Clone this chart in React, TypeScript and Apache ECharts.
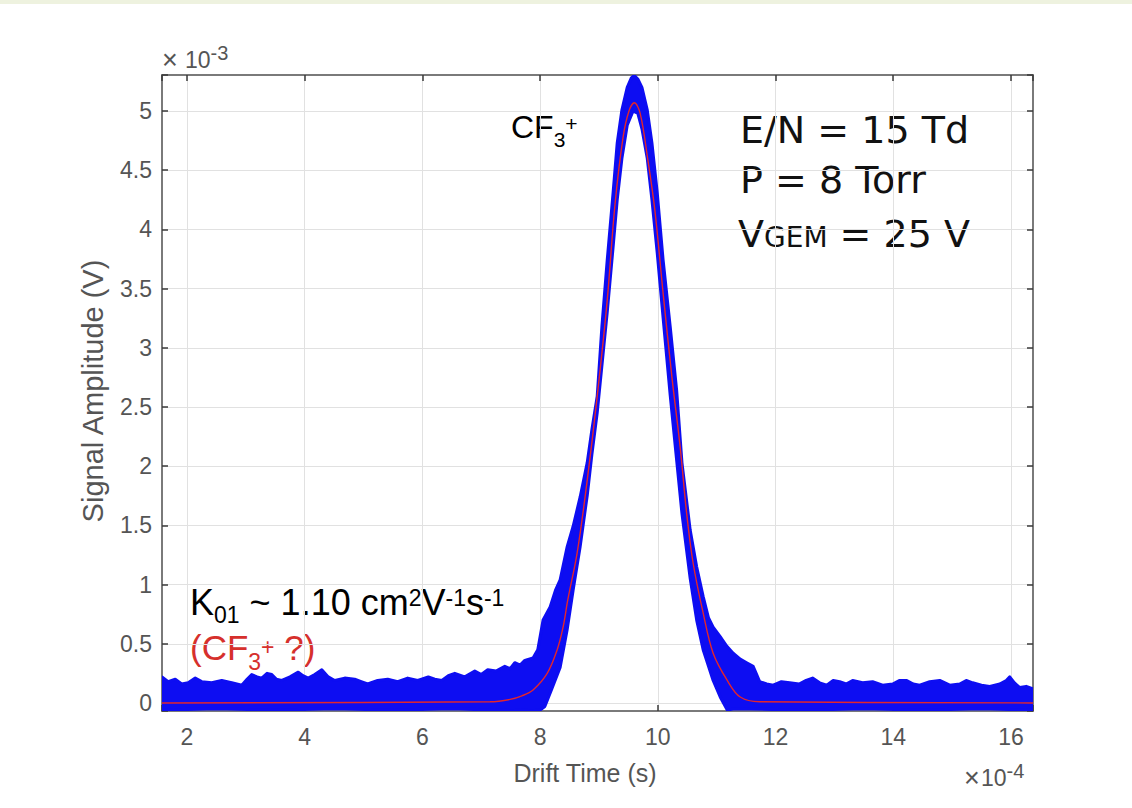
import React, { useEffect, useRef } from 'react';
import * as echarts from 'echarts';

// Axis ranges (x in units of 1e-4 s, y in units of 1e-3 V)
const X_MIN = 1.575;
const X_MAX = 16.375;
const Y_MIN = -0.068;
const Y_MAX = 5.304;

// Upper envelope of the measured (blue) signal cloud
const signalUpper: [number, number][] = [
  [1.575, 0.22], [1.68, 0.18], [1.80, 0.20], [1.91, 0.16], [2.02, 0.17], [2.14, 0.21], [2.25, 0.18],
  [2.42, 0.17], [2.59, 0.19], [2.76, 0.17], [2.93, 0.15], [3.02, 0.20], [3.10, 0.24], [3.19, 0.22],
  [3.27, 0.21], [3.36, 0.25], [3.44, 0.24], [3.52, 0.20], [3.61, 0.19], [3.75, 0.22], [3.89, 0.26],
  [3.97, 0.23], [4.06, 0.21], [4.17, 0.24], [4.29, 0.28], [4.40, 0.22], [4.51, 0.19], [4.68, 0.21],
  [4.85, 0.20], [4.96, 0.18], [5.07, 0.16], [5.24, 0.19], [5.41, 0.20], [5.58, 0.18], [5.75, 0.21],
  [5.92, 0.19], [6.10, 0.22], [6.21, 0.20], [6.33, 0.19], [6.44, 0.23], [6.55, 0.25], [6.72, 0.22],
  [6.89, 0.27], [7.00, 0.24], [7.11, 0.28], [7.25, 0.27], [7.40, 0.31], [7.49, 0.29], [7.57, 0.34],
  [7.66, 0.32], [7.74, 0.36], [7.88, 0.38], [7.96, 0.45], [8.05, 0.70], [8.17, 0.81], [8.26, 0.95],
  [8.34, 1.04], [8.46, 1.32], [8.56, 1.49], [8.68, 1.74], [8.80, 2.03], [8.88, 2.31], [8.97, 2.59],
  [9.05, 3.18], [9.14, 3.74], [9.24, 4.31], [9.31, 4.73], [9.39, 5.01], [9.48, 5.20], [9.55, 5.28],
  [9.60, 5.30], [9.66, 5.27], [9.73, 5.20], [9.82, 5.01], [9.90, 4.73], [9.99, 4.31], [10.09, 3.74],
  [10.21, 3.18], [10.32, 2.64], [10.41, 2.03], [10.55, 1.46], [10.66, 1.15], [10.77, 0.90], [10.86, 0.72],
  [10.94, 0.64], [11.06, 0.56], [11.17, 0.48], [11.28, 0.42], [11.40, 0.37], [11.51, 0.34], [11.62, 0.31],
  [11.68, 0.24], [11.73, 0.18], [11.85, 0.16], [11.96, 0.15], [12.10, 0.18], [12.24, 0.17], [12.40, 0.16],
  [12.52, 0.19], [12.63, 0.21], [12.75, 0.17], [12.87, 0.15], [12.98, 0.19], [13.09, 0.18], [13.20, 0.16],
  [13.31, 0.19], [13.48, 0.17], [13.65, 0.18], [13.82, 0.15], [13.99, 0.16], [14.11, 0.19], [14.23, 0.19],
  [14.34, 0.16], [14.45, 0.15], [14.62, 0.18], [14.79, 0.19], [14.96, 0.15], [15.13, 0.16], [15.24, 0.19],
  [15.35, 0.17], [15.50, 0.15], [15.64, 0.14], [15.81, 0.16], [15.92, 0.19], [15.98, 0.22], [16.06, 0.17],
  [16.15, 0.13], [16.26, 0.14], [16.375, 0.12],
];

// Lower envelope of the measured (blue) signal cloud
const signalLower: [number, number][] = [
  [1.575, -0.06], [2.5, -0.05], [3.5, -0.06], [4.5, -0.05], [5.5, -0.06], [6.5, -0.05], [7.2, -0.06],
  [7.5, -0.065], [7.7, -0.06], [7.85, -0.065], [8.0, -0.06], [8.08, -0.03], [8.20, 0.12], [8.34, 0.30],
  [8.46, 0.62], [8.56, 0.95], [8.68, 1.32], [8.80, 1.75], [8.88, 2.10], [8.97, 2.45], [9.05, 2.85],
  [9.14, 3.30], [9.24, 3.85], [9.31, 4.25], [9.39, 4.60], [9.48, 4.88], [9.58, 5.00], [9.66, 4.98],
  [9.73, 4.85], [9.82, 4.60], [9.90, 4.25], [9.99, 3.80], [10.09, 3.25], [10.21, 2.60], [10.32, 2.05],
  [10.41, 1.60], [10.55, 1.05], [10.66, 0.70], [10.77, 0.45], [10.94, 0.19], [11.06, 0.05], [11.18, -0.06],
  [11.3, -0.05], [12.5, -0.06], [13.5, -0.05], [14.5, -0.06], [15.5, -0.05], [16.375, -0.06],
];

// Fitted curve (red)
const fitCurve: [number, number][] = [
  [1.575, 0.0], [7.15, 0.01], [7.49, 0.03], [7.69, 0.06], [7.88, 0.11], [8.12, 0.25], [8.29, 0.45],
  [8.39, 0.64], [8.47, 0.87], [8.63, 1.27], [8.80, 1.88], [8.97, 2.59], [9.14, 3.40], [9.27, 4.20],
  [9.41, 4.78], [9.51, 5.00], [9.60, 5.07], [9.70, 4.98], [9.83, 4.59], [9.95, 4.16], [10.09, 3.46],
  [10.24, 2.75], [10.38, 2.16], [10.49, 1.60], [10.60, 1.18], [10.77, 0.76], [10.94, 0.42], [11.18, 0.19],
  [11.40, 0.05], [11.73, 0.01], [16.375, 0.0],
];

const X_TICK_STEP = 2;
const Y_TICK_STEP = 0.5;

const BLUE = '#0d0df2';
const RED = '#e3262b';
const ANNOT_RED = '#d6302c';
const GRAY_TEXT = '#555555';
const AXIS_COLOR = '#7a7a7a';
const SANS = '"Liberation Sans", Arial, Helvetica, sans-serif';
const WIDE = '"DejaVu Sans", sans-serif';
const CENTRAL = 0.3465; // distance from baseline to em-box centre, in em

const isStep = (v: number, s: number) => Math.abs(v / s - Math.round(v / s)) < 1e-6;

let measureCtx: CanvasRenderingContext2D | null = null;
function measure(text: string, size: number, family: string): number {
  if (!measureCtx) measureCtx = document.createElement('canvas').getContext('2d');
  if (!measureCtx) return text.length * size * 0.55;
  measureCtx.font = `${size}px ${family}`;
  return measureCtx.measureText(text).width;
}

type Part = { t: string; size: number; dy: number };

// Lays out a run of text pieces (normal / sub / superscript) on one baseline
function textRun(parts: Part[], x0: number, baseline: number, family: string, fill: string): any[] {
  let x = x0;
  const out: any[] = [];
  for (const p of parts) {
    out.push({
      type: 'text',
      x,
      y: baseline + p.dy - CENTRAL * p.size,
      silent: true,
      style: {
        text: p.t, fontSize: p.size, fontFamily: family, fill,
        align: 'left', verticalAlign: 'middle', textAlign: 'left', textVerticalAlign: 'middle',
      },
    });
    x += measure(p.t, p.size, family);
  }
  return out;
}

export default function App() {
  const ref = useRef<HTMLDivElement>(null);

  useEffect(() => {
    if (!ref.current) return;
    const chart = echarts.init(ref.current, undefined, { renderer: 'svg' });

    const axisLine = { show: true, onZero: false, lineStyle: { color: AXIS_COLOR, width: 2 } };
    const axisTick = { show: true, inside: true, length: 6, lineStyle: { color: '#3a3a3a', width: 1.5 } };

    const xBase = { type: 'value', min: X_MIN, max: X_MAX, splitNumber: 7 };
    const yBase = { type: 'value', min: Y_MIN, max: Y_MAX, splitNumber: 10 };

    const graphics: any[] = [
      { type: 'rect', shape: { x: 0, y: 0, width: 1132, height: 4 }, style: { fill: '#eef2df' }, silent: true },
      // axis titles
      {
        type: 'text', x: 585, y: 773, silent: true,
        style: {
          text: 'Drift Time (s)', fontSize: 25, fontFamily: SANS, fill: GRAY_TEXT,
          align: 'center', verticalAlign: 'middle', textAlign: 'center', textVerticalAlign: 'middle',
        },
      },
      {
        type: 'text', x: 93, y: 391, rotation: Math.PI / 2, silent: true,
        style: {
          text: 'Signal Amplitude (V)', fontSize: 29, fontFamily: SANS, fill: GRAY_TEXT,
          align: 'center', verticalAlign: 'middle', textAlign: 'center', textVerticalAlign: 'middle',
        },
      },
      // exponent markers
      ...textRun([{ t: '×', size: 27, dy: 1 }], 162, 68, SANS, GRAY_TEXT),
      ...textRun([{ t: '10', size: 23, dy: 0 }, { t: '-3', size: 20, dy: -8 }], 185, 68, SANS, GRAY_TEXT),
      ...textRun([{ t: '×', size: 27, dy: 1 }], 964, 786, SANS, GRAY_TEXT),
      ...textRun([{ t: '10', size: 23, dy: 0 }, { t: '-4', size: 20, dy: -8 }], 981, 786, SANS, GRAY_TEXT),
      // peak label
      ...textRun(
        [{ t: 'CF', size: 32, dy: 0 }, { t: '3', size: 21, dy: 9 }, { t: '+', size: 21, dy: -7 }],
        511, 138, SANS, '#000',
      ),
      // conditions
      ...textRun([{ t: 'E/N = 15 Td', size: 38, dy: 0 }], 740, 143, WIDE, '#111'),
      ...textRun([{ t: 'P = 8 Torr', size: 38, dy: 0 }], 740, 193, WIDE, '#111'),
      ...textRun(
        [{ t: 'V', size: 38, dy: 0 }, { t: 'GEM', size: 28, dy: 0 }, { t: ' = 25 V', size: 38, dy: 0 }],
        738, 247, WIDE, '#111',
      ),
      // mobility annotation
      ...textRun(
        [
          { t: 'K', size: 36, dy: 0 }, { t: '01', size: 23, dy: 8 },
          { t: ' ~ 1.10 cm', size: 36, dy: 0 }, { t: '2', size: 23, dy: -9 },
          { t: 'V', size: 36, dy: 0 }, { t: '-1', size: 23, dy: -9 },
          { t: 's', size: 36, dy: 0 }, { t: '-1', size: 23, dy: -9 },
        ],
        190, 615, SANS, '#000',
      ),
      ...textRun(
        [
          { t: '(CF', size: 35, dy: 0 }, { t: '3', size: 23, dy: 10 },
          { t: '+', size: 23, dy: -5.5 }, { t: ' ?)', size: 35, dy: 0 },
        ],
        190, 660, SANS, ANNOT_RED,
      ),
    ];

    const option: any = {
      animation: false,
      backgroundColor: '#ffffff',
      grid: { left: 162, right: 99, top: 75, bottom: 97, containLabel: false },
      xAxis: [
        {
          ...xBase,
          position: 'bottom',
          axisLine,
          axisTick,
          axisLabel: {
            show: true,
            color: GRAY_TEXT,
            fontSize: 23,
            fontFamily: SANS,
            margin: 14,
            formatter: (v: number) => (isStep(v, X_TICK_STEP) ? String(Math.round(v)) : ''),
          },
          splitLine: { show: true, lineStyle: { color: '#e1e1e1', width: 1 } },
        },
        {
          ...xBase,
          position: 'top',
          axisLine,
          axisTick,
          axisLabel: { show: false },
          splitLine: { show: false },
        },
      ],
      yAxis: [
        {
          ...yBase,
          position: 'left',
          axisLine,
          axisTick,
          axisLabel: {
            show: true,
            color: GRAY_TEXT,
            fontSize: 23,
            fontFamily: SANS,
            margin: 10,
            formatter: (v: number) => (isStep(v, Y_TICK_STEP) ? String(Math.round(v * 2) / 2) : ''),
          },
          splitLine: { show: true, lineStyle: { color: '#e1e1e1', width: 1 } },
        },
        {
          ...yBase,
          position: 'right',
          axisLine,
          axisTick,
          axisLabel: { show: false },
          splitLine: { show: false },
        },
      ],
      series: [
        {
          type: 'custom',
          name: 'Signal',
          coordinateSystem: 'cartesian2d',
          xAxisIndex: 0,
          yAxisIndex: 0,
          clip: true,
          silent: true,
          z: 2,
          data: [[9.6, 2.5]],
          renderItem: (_params: any, api: any) => {
            const pts = [
              ...signalUpper.map((p) => api.coord(p)),
              ...signalLower.slice().reverse().map((p) => api.coord(p)),
            ];
            return {
              type: 'polygon',
              shape: { points: pts },
              style: { fill: BLUE, stroke: BLUE, lineWidth: 3, lineJoin: 'round' },
            };
          },
        },
        {
          type: 'line',
          name: 'Fit',
          xAxisIndex: 0,
          yAxisIndex: 0,
          data: fitCurve,
          smooth: 0.35,
          symbol: 'none',
          silent: true,
          z: 3,
          lineStyle: { color: RED, width: 1.4 },
        },
      ],
      graphic: graphics,
    };

    chart.setOption(option);
    return () => chart.dispose();
  }, []);

  return (
    <div
      ref={ref}
      style={{ position: 'absolute', left: 0, top: 0, width: 1132, height: 808, background: '#fff' }}
    />
  );
}
